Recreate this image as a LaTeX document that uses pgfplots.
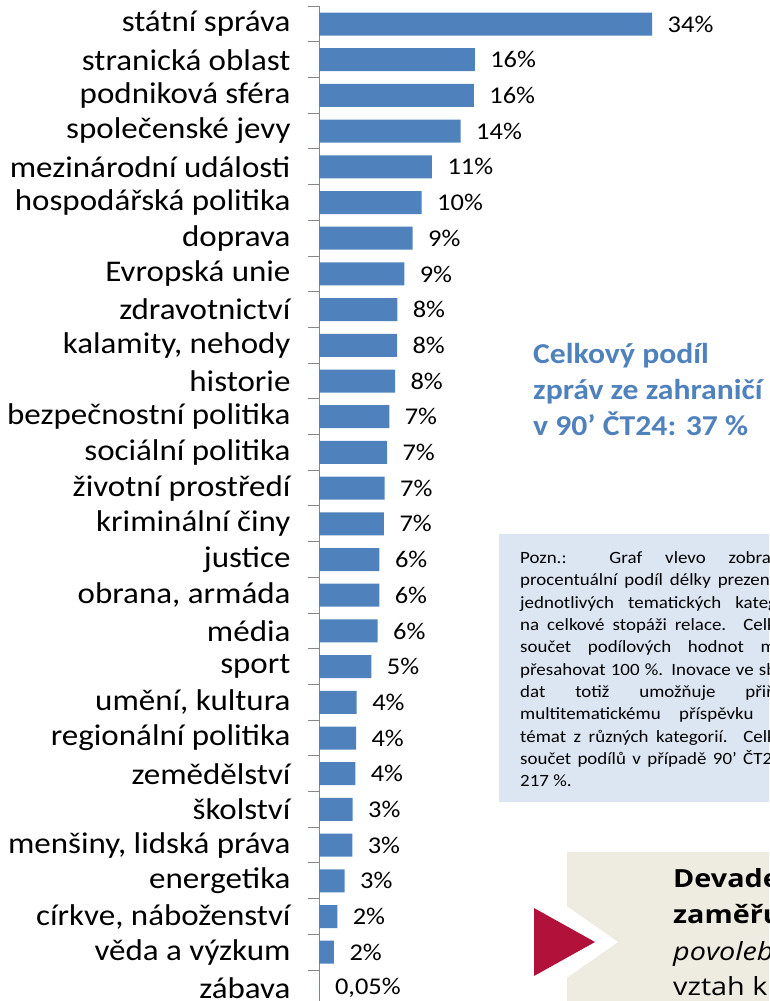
\documentclass[border=0pt]{standalone}
\usepackage{pgfplots}
\pgfplotsset{compat=1.18}
\usepackage{fontspec}
\setmainfont{Carlito}[FakeStretch=1.1]
\newfontfamily\osans{Open Sans}[FakeStretch=1.15]
\definecolor{barblue}{RGB}{79,129,189}
\definecolor{titleblue}{RGB}{79,129,189}
\definecolor{notebg}{RGB}{220,230,242}
\definecolor{beige}{RGB}{238,236,225}
\definecolor{crimson}{RGB}{178,18,58}
\definecolor{axisgray}{RGB}{134,134,134}
\begin{document}
\begin{tikzpicture}[x=1pt,y=-1pt]
\useasboundingbox (0,0) rectangle (769,1001);
\clip (0,0) rectangle (769,1001);
\begin{axis}[
  at={(319pt,-6.15pt)}, anchor=north west,
  scale only axis, width=392pt, height=999.6pt,
  xmin=0, xmax=40, ymin=-0.5, ymax=27.5, y dir=reverse,
  axis x line=none, axis y line=left,
  y axis line style={draw=axisgray, line width=1pt, -},
  ytick={0,...,27},
  yticklabels={státní správa, stranická oblast, podniková sféra, společenské jevy, mezinárodní události, hospodářská politika, doprava, Evropská unie, zdravotnictví, {kalamity, nehody}, historie, bezpečnostní politika, sociální politika, životní prostředí, kriminální činy, justice, {obrana, armáda}, média, sport, {umění, kultura}, regionální politika, zemědělství, školství, {menšiny, lidská práva}, energetika, {církve, náboženství}, věda a výzkum, zábava},
  yticklabel style={font=\fontsize{30}{31}\selectfont, anchor=east, xshift=-25pt},
  major tick length=0pt,
  minor ytick={-0.5,0.5,...,27.5},
  minor tick length=11pt,
  tick align=outside,
  minor tick style={draw=axisgray, line width=1pt},
  xbar, bar width=23pt, bar shift=0pt,
  point meta=explicit symbolic,
  nodes near coords,
  nodes near coords align={horizontal},
  every node near coord/.append style={font=\fontsize{24}{26}\selectfont, anchor=west, xshift=12pt, text=black},
  clip=false,
]
\addplot[fill=barblue, draw=none] coordinates {
(34.0,0) [34\%]
(15.9,1) [16\%]
(15.8,2) [16\%]
(14.46,3) [14\%]
(11.53,4) [11\%]
(10.48,5) [10\%]
(9.56,6) [9\%]
(8.70,7) [9\%]
(7.99,8) [8\%]
(7.96,9) [8\%]
(7.76,10) [8\%]
(7.17,11) [7\%]
(6.94,12) [7\%]
(6.70,13) [7\%]
(6.63,14) [7\%]
(6.17,15) [6\%]
(6.15,16) [6\%]
(5.99,17) [6\%]
(5.34,18) [5\%]
(3.85,19) [4\%]
(3.78,20) [4\%]
(3.70,21) [4\%]
(3.44,22) [3\%]
(3.40,23) [3\%]
(2.62,24) [3\%]
(1.87,25) [2\%]
(1.53,26) [2\%]
(0.05,27) [0{,}05\%]
};
\end{axis}
% headline
\begin{scope}[every node/.style={anchor=base west, inner sep=0pt, text=titleblue, font=\fontsize{28.8}{30}\selectfont\bfseries}]
\node at (533,363) {Celkový podíl};
\node at (533,399) {zpráv ze zahraničí};
\node at (533,435) {v 90’ ČT24: 37 \%};
\end{scope}
% note box
\fill[notebg] (499,534) rectangle (810,802);
\begin{scope}[every node/.style={anchor=base west, inner sep=0pt, font=\fontsize{17.2}{20}\selectfont}]
\node at (520,563.3)  {\makebox[282pt][s]{Pozn.: Graf vlevo zobrazuje}};
\node at (520,585.6)  {\makebox[282pt][s]{procentuální podíl délky prezentace}};
\node at (520,608.0)  {\makebox[282pt][s]{jednotlivých tematických kategorií}};
\node at (520,630.3)  {\makebox[282pt][s]{na celkové stopáži relace. Celkový}};
\node at (520,652.7)  {\makebox[282pt][s]{součet podílových hodnot může}};
\node at (520,675.0)  {\makebox[282pt][s]{přesahovat 100 \%. Inovace ve sběru}};
\node at (520,697.4)  {\makebox[282pt][s]{dat totiž umožňuje přiřadit}};
\node at (520,719.7)  {\makebox[282pt][s]{multitematickému příspěvku více}};
\node at (520,742.0)  {\makebox[282pt][s]{témat z různých kategorií. Celkový}};
\node at (520,764.4)  {\makebox[282pt][s]{součet podílů v případě 90’ ČT24 je}};
\node at (520,786.7)  {217 \%.};
\end{scope}
% bottom box
\fill[beige] (567,852) rectangle (800,1010);
\fill[white] (525,877) -- (618,942) -- (525,1007) -- cycle;
\fill[crimson] (534,908) -- (595,942) -- (534,976) -- cycle;
\begin{scope}[every node/.style={anchor=base west, inner sep=0pt, font=\osans\fontsize{25}{27}\selectfont}]
\node at (673,887) {\bfseries Devadesátka};
\node at (673,923) {\bfseries zaměřuje};
\node at (673,960) {\itshape povolební};
\node at (673,995) {vztah k};
\end{scope}
\end{tikzpicture}
\end{document}
